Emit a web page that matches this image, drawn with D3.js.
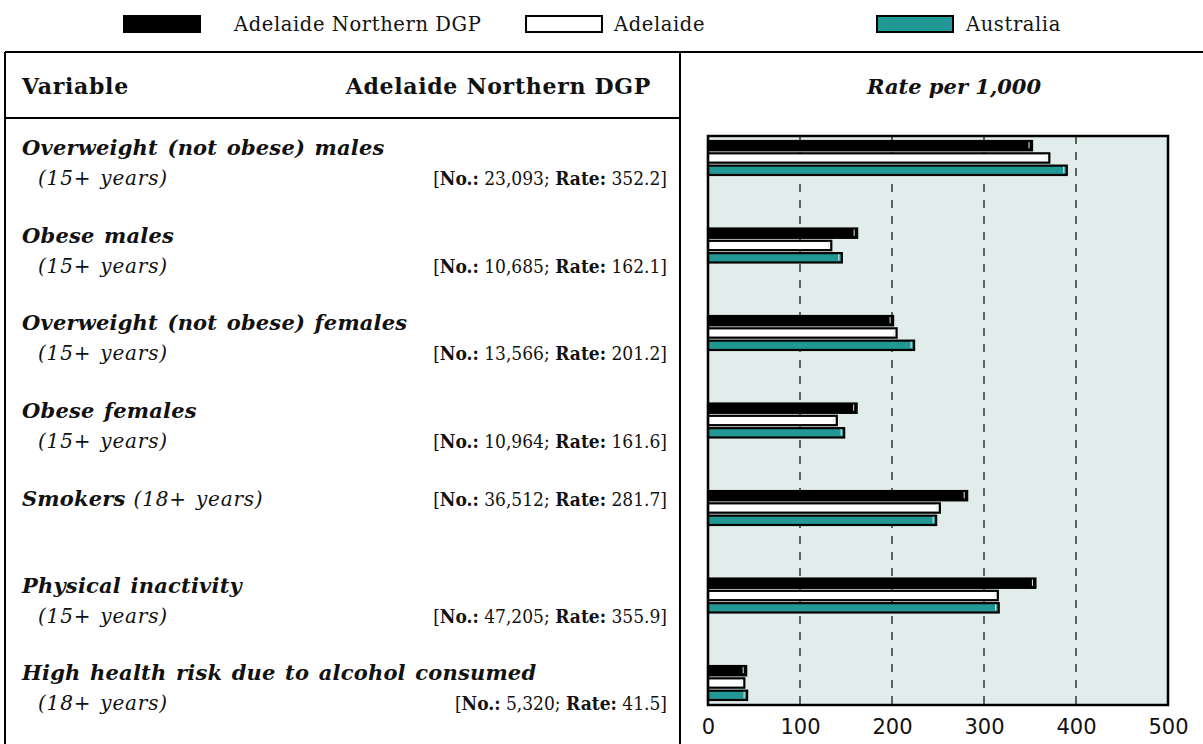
<!DOCTYPE html>
<html><head><meta charset="utf-8">
<script src="https://cdn.jsdelivr.net/npm/d3@7"></script>
<style>
html,body{margin:0;padding:0;background:#fff;}
svg{display:block;font-family:"DejaVu Serif",serif;}
.ttl{font-weight:bold;font-style:italic;font-size:21px;letter-spacing:0.2px;word-spacing:2px;}
.sub{font-style:italic;font-size:20px;letter-spacing:0.8px;word-spacing:2px;}
.brk{font-size:19px;font-stretch:condensed;font-family:"DejaVu Serif Condensed","DejaVu Serif",serif;}
</style></head>
<body><svg id="chart" width="1203" height="744"></svg>
<script>
// ---------- data ----------
const categories = [
  "Overweight (not obese) males",
  "Obese males",
  "Overweight (not obese) females",
  "Obese females",
  "Smokers",
  "Physical inactivity",
  "High health risk due to alcohol consumed"
];
const ageGroups = ["(15+ years)","(15+ years)","(15+ years)","(15+ years)","(18+ years)","(15+ years)","(18+ years)"];
const counts = ["23,093","10,685","13,566","10,964","36,512","47,205","5,320"];
const seriesNames = ["Adelaide Northern DGP","Adelaide","Australia"];
const northernDGP = [352.2,162.1,201.2,161.6,281.7,355.9,41.5];
const adelaide    = [371,134,205,140,252,315,39.5];
const australia   = [390,145.5,224,148,248,316,42.5];
const xTicks = [0,100,200,300,400,500];

const seriesValues = [northernDGP, adelaide, australia];
const colors = ["#000000","#ffffff","#229895"];

const svg = d3.select("#chart");
const W = 1203, H = 744;

// ---------- legend ----------
const legendX = [124, 526, 877];
const legendTextX = [234, 614, 966];
const lg = svg.append("g");
seriesNames.forEach((s,i)=>{
  lg.append("rect").attr("x",legendX[i]).attr("y",16).attr("width",76).attr("height",16)
    .attr("fill",colors[i]).attr("stroke","#000").attr("stroke-width",2);
  lg.append("text").attr("x",legendTextX[i]).attr("y",31).attr("font-size",19.5)
    .attr("letter-spacing","0.6px").attr("fill","#111").text(s);
});

// ---------- table frame ----------
const tableTop = 52, divX = 680, headerBottom = 118, leftX = 5;
const frame = svg.append("g").attr("stroke","#000").attr("stroke-width",2).attr("fill","none");
frame.append("line").attr("x1",leftX).attr("x2",W).attr("y1",tableTop).attr("y2",tableTop);
frame.append("line").attr("x1",leftX).attr("x2",leftX).attr("y1",tableTop).attr("y2",H);
frame.append("line").attr("x1",divX).attr("x2",divX).attr("y1",tableTop).attr("y2",H);
frame.append("line").attr("x1",leftX).attr("x2",divX).attr("y1",headerBottom).attr("y2",headerBottom);

// header text
svg.append("text").attr("x",22).attr("y",94).attr("font-size",22).attr("letter-spacing","0.7px").attr("font-weight","bold").attr("fill","#111").text("Variable");
svg.append("text").attr("x",651).attr("y",94).attr("text-anchor","end").attr("font-size",22).attr("letter-spacing","0.7px").attr("font-weight","bold").attr("fill","#111").text("Adelaide Northern DGP");
svg.append("text").attr("x",954).attr("y",94).attr("text-anchor","middle").attr("font-size",21).attr("font-weight","bold").attr("font-style","italic").attr("fill","#111").text("Rate per 1,000");

// ---------- scales ----------
const plotL = 708, plotR = 1168, plotT = 136, plotB = 705;
const x = d3.scaleLinear().domain([0,500]).range([plotL,plotR]);
const y = d3.scaleBand().domain(categories).range([140,701]).paddingInner(0.589).paddingOuter(0);
const ySub = d3.scaleBand().domain(d3.range(3)).range([0,y.bandwidth()]).paddingInner(0.08);

// plot background
svg.append("rect").attr("x",plotL).attr("y",plotT).attr("width",plotR-plotL).attr("height",plotB-plotT)
  .attr("fill","#e1edeb");

// gridlines
svg.append("g").selectAll("line").data(xTicks.filter(t=>t>0&&t<500)).join("line")
  .attr("x1",d=>x(d)).attr("x2",d=>x(d)).attr("y1",plotT).attr("y2",plotB)
  .attr("stroke","#333").attr("stroke-width",1.5).attr("stroke-dasharray","8,8");

// bars
const bars = [];
categories.forEach((c,ci)=>seriesValues.forEach((arr,si)=>bars.push({c,si,v:arr[ci]})));
const bg = svg.append("g");
bg.selectAll("rect").data(bars).join("rect")
  .attr("x",x(0)).attr("y",d=>y(d.c)+ySub(d.si)+1)
  .attr("width",d=>x(d.v)-x(0)).attr("height",ySub.bandwidth()-2)
  .attr("fill",d=>colors[d.si]).attr("stroke","#000").attr("stroke-width",2.2);
bg.selectAll("line.hl").data(bars).join("line").attr("class","hl")
  .attr("x1",d=>x(d.v)-3).attr("x2",d=>x(d.v)-3)
  .attr("y1",d=>y(d.c)+ySub(d.si)+2).attr("y2",d=>y(d.c)+ySub(d.si)+ySub.bandwidth()-3)
  .attr("stroke","#dfeeee").attr("stroke-width",1);

// plot frame
svg.append("rect").attr("x",plotL).attr("y",plotT).attr("width",plotR-plotL).attr("height",plotB-plotT)
  .attr("fill","none").attr("stroke","#000").attr("stroke-width",2.5);

// axis
const axis = d3.axisBottom(x).tickValues(xTicks).tickSize(0).tickPadding(12).tickFormat(d3.format("d"));
const ax = svg.append("g").attr("transform",`translate(0,${plotB+2})`).call(axis);
ax.select(".domain").remove();
ax.selectAll("text").attr("font-size",21).attr("fill","#111").attr("font-family","DejaVu Sans");

// ---------- left text rows ----------
function bracket(sel, i){
  sel.append("tspan").text("[");
  sel.append("tspan").attr("font-weight","bold").text("No.:");
  sel.append("tspan").text(" " + counts[i] + "; ");
  sel.append("tspan").attr("font-weight","bold").text("Rate:");
  sel.append("tspan").text(" " + d3.format(".1f")(northernDGP[i]) + "]");
}
const rows = svg.append("g").attr("fill","#111");
categories.forEach((c,i)=>{
  const gy = y(c);
  if (i === 4) {
    const t = rows.append("text").attr("x",22).attr("y",gy+16);
    t.append("tspan").attr("class","ttl").text(c);
    t.append("tspan").attr("class","sub").attr("dx",8).text(ageGroups[i]);
    bracket(rows.append("text").attr("class","brk").attr("x",667).attr("y",gy+16).attr("text-anchor","end"), i);
  } else {
    rows.append("text").attr("class","ttl").attr("x",22).attr("y",gy+15).text(c);
    rows.append("text").attr("class","sub").attr("x",38).attr("y",gy+45).text(ageGroups[i]);
    bracket(rows.append("text").attr("class","brk").attr("x",667).attr("y",gy+45).attr("text-anchor","end"), i);
  }
});
</script></body></html>
